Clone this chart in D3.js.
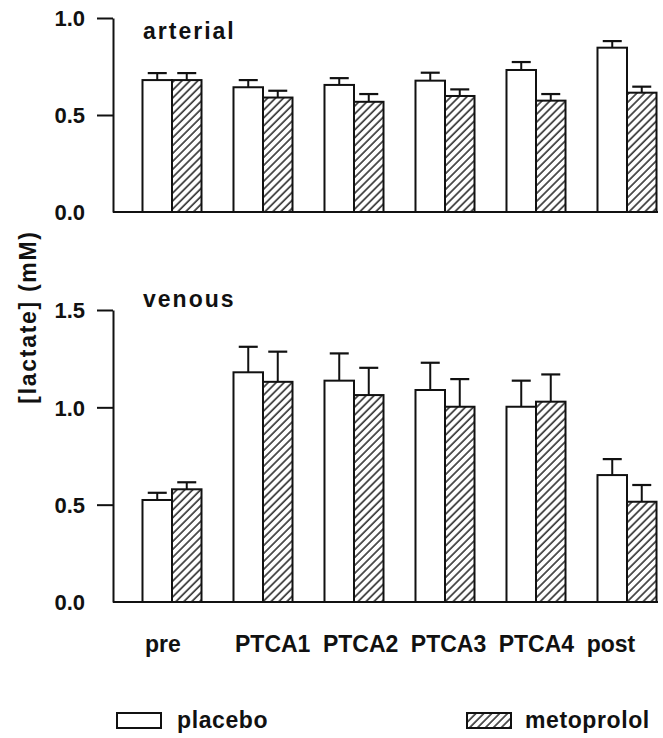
<!DOCTYPE html>
<html>
<head>
<meta charset="utf-8">
<script src="https://cdn.jsdelivr.net/npm/d3@7"></script>
<style>
  html, body { margin: 0; padding: 0; background: #fff; }
  svg { display: block; font-family: "Liberation Sans", Arial, Helvetica, sans-serif; font-weight: bold; }
</style>
</head>
<body>
<svg id="chart" width="663" height="738"></svg>
<script>
// ---------- data ----------
const categories = ["pre", "PTCA1", "PTCA2", "PTCA3", "PTCA4", "post"];
const seriesNames = ["placebo", "metoprolol"];

const arterialPlacebo    = [0.680, 0.643, 0.655, 0.677, 0.732, 0.847];
const arterialPlaceboErr = [0.036, 0.037, 0.035, 0.041, 0.041, 0.034];
const arterialMeto       = [0.680, 0.590, 0.568, 0.598, 0.574, 0.615];
const arterialMetoErr    = [0.036, 0.035, 0.040, 0.034, 0.034, 0.031];

const venousPlacebo      = [0.524, 1.180, 1.137, 1.089, 1.003, 0.652];
const venousPlaceboErr   = [0.037, 0.131, 0.140, 0.140, 0.134, 0.082];
const venousMeto         = [0.579, 1.131, 1.063, 1.003, 1.029, 0.515];
const venousMetoErr      = [0.036, 0.155, 0.140, 0.142, 0.140, 0.086];

const arterialTicks = [0.0, 0.5, 1.0];
const venousTicks   = [0.0, 0.5, 1.0, 1.5];

const panelTitles = ["arterial", "venous"];
const yAxisTitle = "[lactate] (mM)";

// ---------- setup ----------
const svg = d3.select("#chart");
const ink = "#111";

const defs = svg.append("defs");
const pat = defs.append("pattern")
  .attr("id", "hatch")
  .attr("patternUnits", "userSpaceOnUse")
  .attr("width", 5.6).attr("height", 5.6)
  .attr("patternTransform", "rotate(45)");
pat.append("rect").attr("width", 5.6).attr("height", 5.6).attr("fill", "#fff");
pat.append("line").attr("x1", 1).attr("y1", 0).attr("x2", 1).attr("y2", 5.6)
  .attr("stroke", ink).attr("stroke-width", 1.4);

const axisX = 113;
const x0 = d3.scaleBand().domain(categories).range([126.5, 672.5]).padding(0);
const x1 = d3.scaleBand().domain(seriesNames).range([0, x0.bandwidth()])
  .paddingInner(0).paddingOuter(0.542);

function panel(cfg) {
  const y = d3.scaleLinear().domain(cfg.domain).range(cfg.range);
  const g = svg.append("g");

  // y axis
  const ax = g.append("g")
    .attr("transform", `translate(${axisX},0)`)
    .call(d3.axisLeft(y).tickValues(cfg.ticks).tickFormat(d3.format(".1f"))
      .tickSize(16).tickSizeOuter(0).tickPadding(12));
  ax.attr("font-family", null).attr("font-size", null);
  ax.select(".domain").attr("stroke", ink).attr("stroke-width", 2);
  ax.selectAll(".tick line").attr("stroke", ink).attr("stroke-width", 2)
    .filter(d => d === 0).remove();
  ax.selectAll(".tick text").attr("fill", ink)
    .style("font-size", "22px").attr("dy", "0.36em");

  // x baseline
  g.append("line")
    .attr("x1", axisX).attr("x2", 658)
    .attr("y1", y(0)).attr("y2", y(0))
    .attr("stroke", ink).attr("stroke-width", 2);

  // bars
  const rows = categories.map((c, i) => [
    { cat: c, s: "placebo", v: cfg.placebo[i], e: cfg.placeboErr[i] },
    { cat: c, s: "metoprolol", v: cfg.meto[i], e: cfg.metoErr[i] }
  ]).flat();

  const bars = g.append("g").selectAll("g.bar").data(rows).join("g").attr("class", "bar");
  bars.append("line")
    .attr("x1", d => x0(d.cat) + x1(d.s) + x1.bandwidth() / 2)
    .attr("x2", d => x0(d.cat) + x1(d.s) + x1.bandwidth() / 2)
    .attr("y1", d => y(d.v)).attr("y2", d => y(d.v + d.e))
    .attr("stroke", ink).attr("stroke-width", 2);
  bars.append("line")
    .attr("x1", d => x0(d.cat) + x1(d.s) + x1.bandwidth() / 2 - 9.5)
    .attr("x2", d => x0(d.cat) + x1(d.s) + x1.bandwidth() / 2 + 9.5)
    .attr("y1", d => y(d.v + d.e)).attr("y2", d => y(d.v + d.e))
    .attr("stroke", ink).attr("stroke-width", 2.2);
  bars.append("rect")
    .attr("x", d => x0(d.cat) + x1(d.s))
    .attr("width", x1.bandwidth())
    .attr("y", d => y(d.v))
    .attr("height", d => y(0) - y(d.v))
    .attr("fill", d => d.s === "placebo" ? "#fff" : "url(#hatch)")
    .attr("stroke", ink).attr("stroke-width", 2);

  // title
  g.append("text")
    .attr("x", 143).attr("y", cfg.titleY)
    .attr("fill", ink)
    .style("font-size", "23px").style("letter-spacing", "2px")
    .text(cfg.title);
}

panel({
  domain: [0, 1.0], range: [212, 18], ticks: arterialTicks,
  placebo: arterialPlacebo, placeboErr: arterialPlaceboErr,
  meto: arterialMeto, metoErr: arterialMetoErr,
  title: panelTitles[0], titleY: 39
});
panel({
  domain: [0, 1.5], range: [602, 310], ticks: venousTicks,
  placebo: venousPlacebo, placeboErr: venousPlaceboErr,
  meto: venousMeto, metoErr: venousMetoErr,
  title: panelTitles[1], titleY: 307
});

// y-axis title
svg.append("text")
  .attr("transform", "translate(36,317) rotate(-90)")
  .attr("text-anchor", "middle")
  .attr("fill", ink)
  .style("font-size", "23px").style("letter-spacing", "1.7px")
  .text(yAxisTitle);

// x category labels: first label on its own, others flow as a line of text
const labG = svg.append("g").style("font-size", "23px").attr("fill", ink);
labG.append("text").attr("x", 145).attr("y", 652).text(categories[0]);
let cx = 235;
categories.slice(1).forEach(c => {
  const t = labG.append("text").attr("x", cx).attr("y", 652).text(c);
  cx += t.node().getComputedTextLength() + 12.5;
});

// legend
const legend = [
  { name: seriesNames[0], bx: 117, tx: 177, fill: "#fff" },
  { name: seriesNames[1], bx: 467, tx: 525, fill: "url(#hatch)" }
];
const lg = svg.append("g");
lg.selectAll("rect").data(legend).join("rect")
  .attr("x", d => d.bx).attr("y", 713).attr("width", 44).attr("height", 15)
  .attr("fill", d => d.fill).attr("stroke", ink).attr("stroke-width", 2);
lg.selectAll("text").data(legend).join("text")
  .attr("x", d => d.tx).attr("y", 728)
  .attr("fill", ink)
  .style("font-size", "23px").style("letter-spacing", "0.6px")
  .text(d => d.name);
</script>
</body>
</html>
